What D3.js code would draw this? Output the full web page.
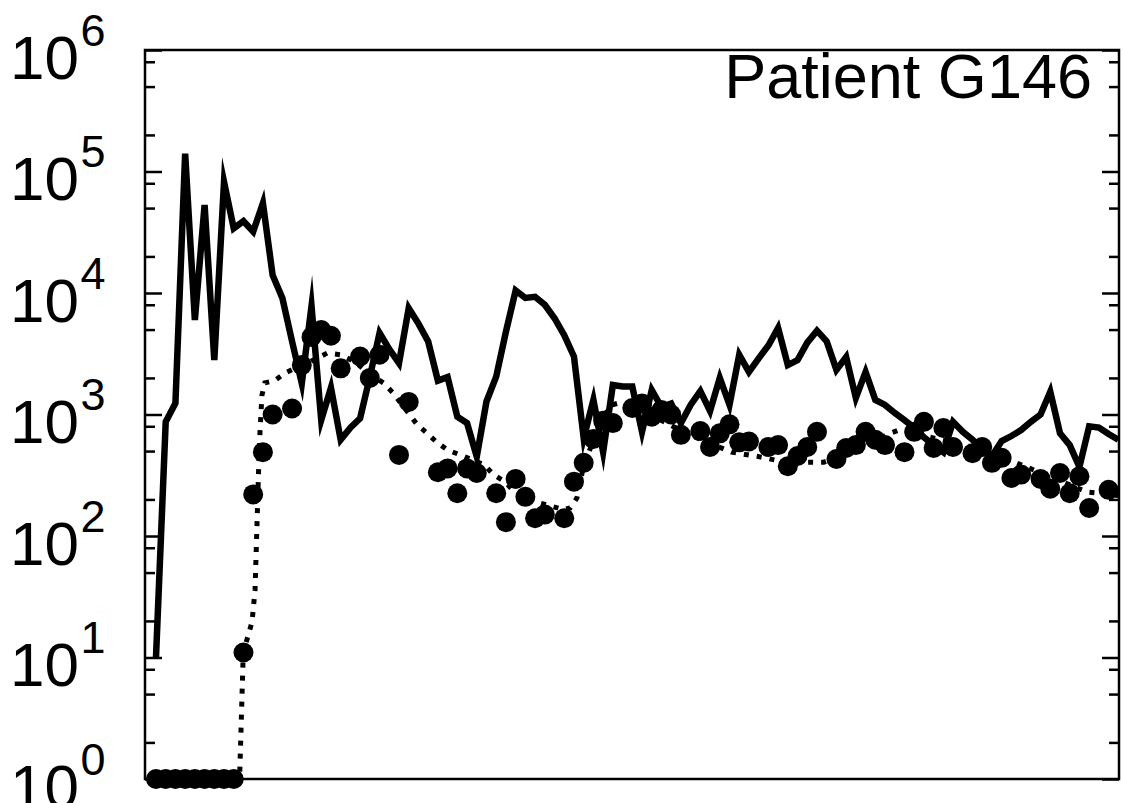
<!DOCTYPE html>
<html><head><meta charset="utf-8">
<script src="https://cdn.jsdelivr.net/npm/d3@7"></script>
<style>html,body{margin:0;padding:0;background:#fff}svg{display:block}</style>
</head><body>
<svg id="chart" width="1123" height="803"></svg>
<script>
// ---- data ----
const title = "Patient G146";

// solid line: measured load per day
const solidDays = [0,1,2,3,4,5,6,7,8,9,10,11,12,13,14,15,16,17,18,19,20,21,22,23,24,25,26,27,28,29,30,31,32,33,34,35,36,37,38,39,40,41,42,43,44,45,46,47,48,49,50,51,52,53,54,55,56,57,58,59,60,61,62,63,64,65,66,67,68,69,70,71,72,73,74,75,76,77,78,79,80,81,82,83,84,85,86,87,88,89,90,91,92,93,94,95,96,97,98,99];
const solidValues = [10,870,1240,140000,6000,53000,2800,82000,34000,39000,32000,55000,14000,9100,4000,1800,7800,900,1660,620,780,930,2040,4700,3450,2650,7500,5600,4000,1900,2030,960,850,450,1280,2050,4800,10500,9100,9300,8000,6200,4500,3000,640,1320,490,1750,1700,1700,720,1590,1150,1230,850,1200,1560,1070,2000,1200,3100,2240,2900,3700,5150,2550,2800,3900,4900,4000,2330,2970,1370,2240,1320,1200,1030,900,780,650,560,490,870,720,620,510,455,605,665,745,870,1000,1540,700,560,370,800,780,690,620];

// filled circles
const dotDays = [0,1,2,3,4,5,6,7,8,9,10,11,12,14,15,16,17,18,19,21,22,23,25,26,29,30,31,32,33,35,36,37,38,39,40,42,43,44,45,46,47,49,50,51,52,53,54,56,57,58,59,60,61,63,64,65,66,67,68,70,71,72,73,74,75,77,78,79,80,81,82,84,85,86,87,88,89,91,92,93,94,95,96,98];
const dotValues = [1,1,1,1,1,1,1,1,1,11,220,490,1000,1120,2550,4350,4950,4450,2400,3000,2000,3100,465,1270,335,360,225,360,330,225,130,295,210,140,150,140,280,400,630,890,850,1130,1230,960,1090,1000,680,730,540,700,830,590,600,540,560,375,455,540,720,430,530,560,720,620,560,490,720,870,530,775,540,480,540,400,440,300,320,295,245,330,225,310,170,240];

// dotted line: model curve
const modelDays = [0,8.6,8.98,9.88,10.19,10.39,10.55,10.7,10.9,11.2,12.2,13.3,14.3,15.8,17.6,19,20.5,21.7,23.4,24.4,26.9,27.9,28.9,30,31.3,33.8,34.7,35.9,36.9,39.5,41.9,42.6,43.3,43.9,45,45.9,46.9,47.9,50.8,54.9,59.2,62,64.8,68.7,72.3,75.3,76.5,80.7,85.3,89.9,95.8,97.1,99.07];
const modelValues = [1,1,11,19.6,36,123,335,720,1440,1820,1900,2200,2400,2700,3200,3100,2700,2240,1820,1500,820,700,590,510,465,385,320,280,230,187,165,170,205,350,620,935,1200,1260,1000,680,490,450,405,405,510,690,750,620,510,360,230,225,215];

// axis ticks
const majorExponents = [0,1,2,3,4,5,6];
const minorMultipliers = [2,5,8];

// ---- chart ----
const svg = d3.select("#chart");
const L = 145, R = 1119, T = 50, B = 779;
const x = d3.scaleLinear().domain([-1.13, 99.07]).range([L, R]);
const y = d3.scaleLog().domain([1, 1e6]).range([B, T]);

const majorTicks = majorExponents.map(e => Math.pow(10, e));
const minorTicks = [];
majorExponents.slice(0, -1).forEach(e => minorMultipliers.forEach(m => minorTicks.push(m * Math.pow(10, e))));

function styleAxis(g) {
  g.select(".domain").remove();
  g.selectAll(".tick line").attr("stroke", "#000").attr("stroke-width", 2.5);
  g.selectAll(".tick text").remove();
}
svg.append("g").attr("transform", `translate(${L},0)`)
  .call(d3.axisLeft(y).tickValues(majorTicks).tickSize(-17).tickFormat("")).call(styleAxis);
svg.append("g").attr("transform", `translate(${L},0)`)
  .call(d3.axisLeft(y).tickValues(minorTicks).tickSize(-10).tickFormat("")).call(styleAxis);
svg.append("g").attr("transform", `translate(${R},0)`)
  .call(d3.axisRight(y).tickValues(majorTicks).tickSize(-17).tickFormat("")).call(styleAxis);
svg.append("g").attr("transform", `translate(${R},0)`)
  .call(d3.axisRight(y).tickValues(minorTicks).tickSize(-10).tickFormat("")).call(styleAxis);

// tick labels 10^n
const font = "'Liberation Sans', Arial, Helvetica, sans-serif";
const lab = svg.append("g").attr("font-family", font).attr("fill", "#000");
majorExponents.forEach(e => {
  const t = lab.append("text").attr("x", 10).attr("y", y(Math.pow(10, e)) + 28.5).attr("font-size", 62);
  t.append("tspan").text("10");
  t.append("tspan").attr("dx", 1.5).attr("dy", -33).attr("font-size", 45).text(String(e));
});

// model (dotted)
const modelData = modelDays.map((d, i) => ({d, v: modelValues[i]}));
svg.append("path").datum(modelData)
  .attr("fill", "none").attr("stroke", "#000").attr("stroke-width", 5)
  .attr("stroke-dasharray", "5 8")
  .attr("d", d3.line().x(p => x(p.d)).y(p => y(p.v)));

// solid
const solidData = solidDays.map((d, i) => ({d, v: solidValues[i]}));
svg.append("path").datum(solidData)
  .attr("fill", "none").attr("stroke", "#000").attr("stroke-width", 6.5)
  .attr("stroke-linejoin", "miter").attr("stroke-miterlimit", 10)
  .attr("d", d3.line().x(p => x(p.d)).y(p => y(p.v)));

// dots
svg.append("g").selectAll("circle")
  .data(dotDays.map((d, i) => ({d, v: dotValues[i]})))
  .join("circle")
  .attr("cx", p => x(p.d)).attr("cy", p => y(p.v)).attr("r", 10).attr("fill", "#000");

// frame
svg.append("rect").attr("x", L).attr("y", T).attr("width", R - L).attr("height", B - T)
  .attr("fill", "none").attr("stroke", "#000").attr("stroke-width", 2.5);

// title
svg.append("text").attr("x", 1092).attr("y", 98).attr("text-anchor", "end")
  .attr("font-family", font).attr("font-size", 63).attr("fill", "#000").text(title);
</script>
</body></html>
